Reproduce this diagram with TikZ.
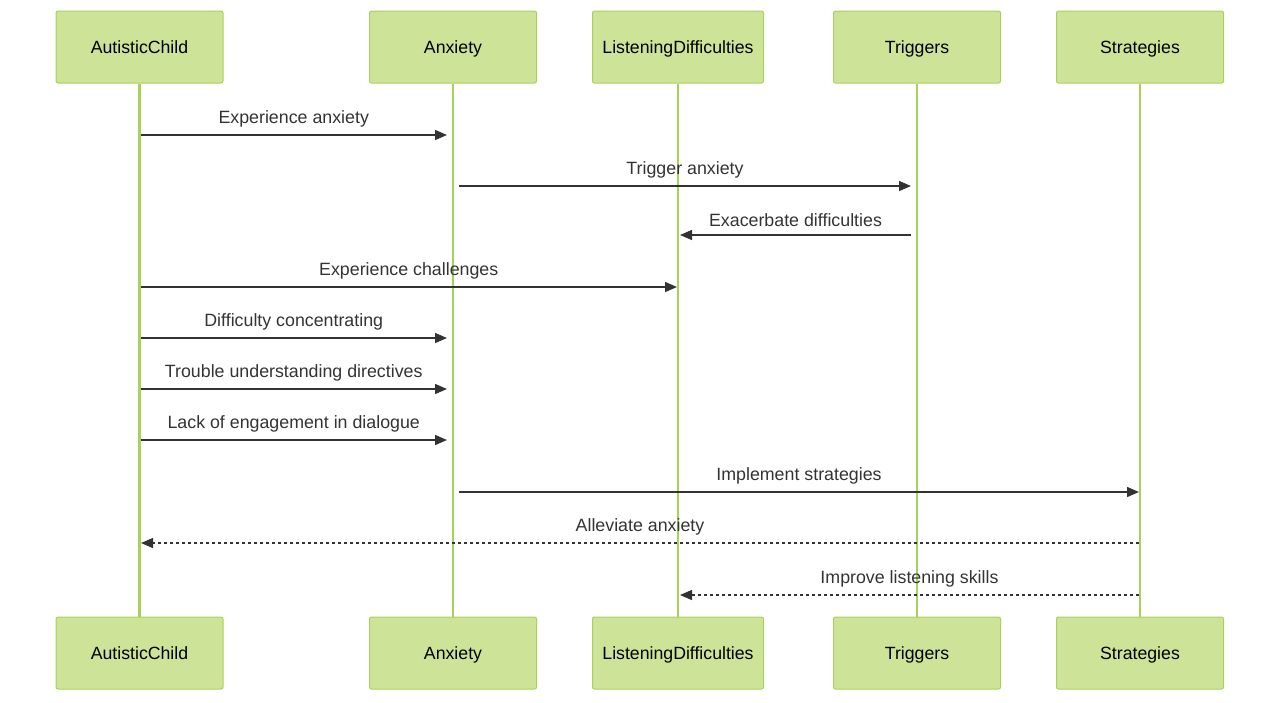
\documentclass[tikz,border=0pt]{standalone}
\usepackage{fontspec}
\setmainfont{Liberation Sans}
\usetikzlibrary{arrows.meta}

\definecolor{boxfill}{HTML}{CDE498}
\definecolor{boxline}{HTML}{A9D15A}
\definecolor{msgline}{HTML}{333333}

\tikzset{
  actor/.style={draw=boxline, fill=boxfill, line width=1pt, rounded corners=2pt,
    minimum width=167pt, minimum height=72pt, inner sep=0pt,
    text height=16.7pt, text depth=4pt, font=\fontsize{17.7}{20}\selectfont},
  lifeline/.style={draw=boxline, line width=2.3pt},
  msg/.style={draw=msgline, line width=1.4pt, -{Triangle[length=12pt,width=10pt]}},
  reply/.style={msg, dash pattern=on 3pt off 3pt},
  msglabel/.style={text=msgline, font=\fontsize{17.8}{20}\selectfont, inner sep=0pt,
    text height=13pt, text depth=4pt}
}

\begin{document}
\begin{tikzpicture}[x=1pt,y=-1pt]
\useasboundingbox (0,0) rectangle (1280,702);

% Teilnehmer oben
\node[actor] (ac) at (139.5,47) {AutisticChild};
\node[actor] (ax) at (453,47) {Anxiety};
\node[actor, minimum width=171pt] (ld) at (678,47) {ListeningDifficulties};
\node[actor] (tr) at (917,47) {Triggers};
\node[actor] (st) at (1140,47) {Strategies};

% Teilnehmer unten
\node[actor] (acB) at (139.5,653) {AutisticChild};
\node[actor] (axB) at (453,653) {Anxiety};
\node[actor, minimum width=171pt] (ldB) at (678,653) {ListeningDifficulties};
\node[actor] (trB) at (917,653) {Triggers};
\node[actor] (stB) at (1140,653) {Strategies};

% Lebenslinien
\foreach \a in {ac,ax,ld,tr,st}
  \draw[lifeline] (\a.south) -- (\a B.north);

% Nachrichten
\draw[msg] (ac.south |- 0,135) ++(1,0) -- (447,135)
  node[msglabel, midway, above=6.5pt] {Experience anxiety};
\draw[msg] (ax.south |- 0,186) ++(6,0) -- (911,186)
  node[msglabel, midway, above=6.5pt] {Trigger anxiety};
\draw[msg] (tr.south |- 0,235) ++(-6,0) -- (680,235)
  node[msglabel, midway, above=4pt] {Exacerbate difficulties};
\draw[msg] (ac.south |- 0,287) ++(1,0) -- (677,287)
  node[msglabel, midway, above=6.5pt] {Experience challenges};
\draw[msg] (ac.south |- 0,338) ++(1,0) -- (447,338)
  node[msglabel, midway, above=6.5pt] {Difficulty concentrating};
\draw[msg] (ac.south |- 0,389) ++(1,0) -- (447,389)
  node[msglabel, midway, above=6.5pt] {Trouble understanding directives};
\draw[msg] (ac.south |- 0,440) ++(1,0) -- (447,440)
  node[msglabel, midway, above=6.5pt] {Lack of engagement in dialogue};
\draw[msg] (ax.south |- 0,492) ++(6,0) -- (1139,492)
  node[msglabel, midway, above=6.5pt] {Implement strategies};
\draw[reply] (st.south |- 0,543) ++(-1,0) -- (141,543)
  node[msglabel, midway, above=6.5pt] {Alleviate anxiety};
\draw[reply] (st.south |- 0,595) ++(-1,0) -- (680,595)
  node[msglabel, midway, above=6.5pt] {Improve listening skills};

\end{tikzpicture}
\end{document}
